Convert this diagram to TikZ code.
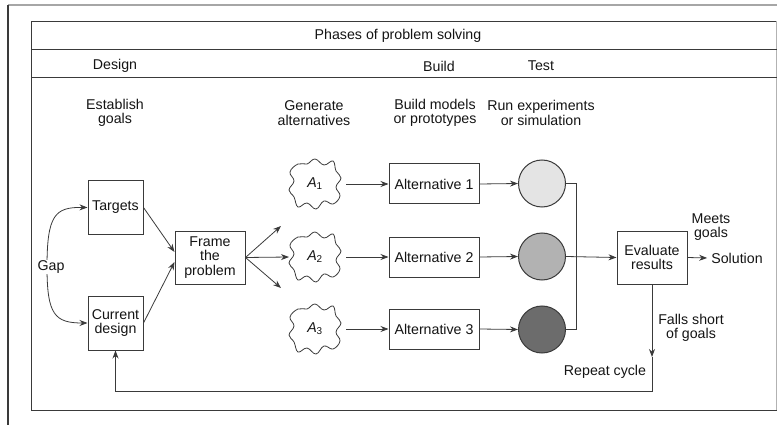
\documentclass[tikz,border=0pt]{standalone}
\usepackage{fontspec}
\setmainfont{Liberation Sans}
\usetikzlibrary{arrows.meta}
\definecolor{lc}{HTML}{3A3A3A}
\definecolor{tc}{HTML}{141414}
\definecolor{cA}{HTML}{E4E4E4}
\definecolor{cB}{HTML}{B2B2B2}
\definecolor{cC}{HTML}{6C6C6C}
\begin{document}
\begin{tikzpicture}[x=1pt,y=-1pt,
  every node/.style={font=\fontsize{14.2}{14.5}\selectfont, text=tc, inner sep=0pt, align=center},
  ln/.style={draw=lc, line width=0.8pt},
  arr/.style={ln, -{Stealth[length=8pt,width=6pt]}},
  box/.style={draw=lc, line width=1pt, fill=white},
  ball/.style={circle, draw=lc, line width=1pt, minimum size=47pt},
  cloudnode/.style={minimum width=62pt, minimum height=50pt},
  cloudpic/.pic={\draw[lc, line width=0.8pt] plot[smooth cycle, tension=0.7] coordinates {
    (-17,-20) (-8,-20) (0,-25) (9,-19) (18,-23) (21,-13) (26,-6) (21,3) (25,12)
    (18,20) (9,17) (1,25) (-8,19) (-17,23) (-21,13) (-26,6) (-21,-3) (-25,-12)};}]
\useasboundingbox (0,0) rectangle (777,425);
% outer frame
\draw[black!35, line width=1.2pt] (8,5) -- (777,5);
\draw[lc, line width=1.2pt] (8,5) -- (8,425);
% inner table
\draw[lc, line width=1pt] (777,21.5) -- (31,21.5) -- (31,410) -- (777,410);
\draw[black!30, line width=1pt] (776,21.5) -- (776,410);
\draw[lc, line width=1pt] (31,49.5) -- (777,49.5);
\draw[lc, line width=1pt] (31,78) -- (777,78);
\node (title) at (398,36) {Phases of problem solving};
\node (design) at (115,66) {Design};
\node (build) at (439,66) {Build};
\node (test) at (541,66) {Test};
\node (h1) at (115,113) {Establish\\goals};
\node (h2) at (314,113) {Generate\\alternatives};
\node (h3) at (435,113) {Build models\\or prototypes};
\node (h4) at (541,113) {Run experiments\\or simulation};
% boxes
\node[box, minimum width=55pt, minimum height=53pt] (tg) at (115.5,207.5) {Targets};
\node[box, minimum width=55pt, minimum height=54pt] (cd) at (115.5,323) {Current\\design};
\node[box, minimum width=70pt, minimum height=53pt] (fr) at (210,257.5) {Frame\\the\\problem};
\node[box, minimum width=90pt, minimum height=40pt] (b1) at (434,184) {Alternative 1};
\node[box, minimum width=90pt, minimum height=40pt] (b2) at (434,257) {Alternative 2};
\node[box, minimum width=90pt, minimum height=40pt] (b3) at (434,329) {Alternative 3};
\node[box, minimum width=70pt, minimum height=53pt] (ev) at (652,257.5) {Evaluate\\results};
% clouds
\pic at (315,184) {cloudpic};
\pic at (315,257) {cloudpic};
\pic at (315,329) {cloudpic};
\node[cloudnode] (a1) at (315,184) {\itshape A\textsubscript{\upshape 1}};
\node[cloudnode] (a2) at (315,257) {\itshape A\textsubscript{\upshape 2}};
\node[cloudnode] (a3) at (315,329) {\itshape A\textsubscript{\upshape 3}};
% circles
\node[ball, fill=cA] (c1) at (542,183.5) {};
\node[ball, fill=cB] (c2) at (542,256.5) {};
\node[ball, fill=cC] (c3) at (542,329.5) {};
% gap
\coordinate (gp) at (47,267);
\draw[arr] (gp) .. controls (47,215) and (55,207) .. (tg.west);
\draw[arr] (gp) .. controls (47,315) and (55,323) .. (cd.west);
\node[fill=white, inner sep=1pt] (gap) at (51,267) {Gap};
% to frame
\coordinate (f1) at (fr.west |- 0,252);
\coordinate (f2) at (fr.west |- 0,262);
\draw[arr] (tg.east) -- (f1);
\draw[arr] (cd.east) -- (f2);
% fan out
\coordinate (o1) at (281,226);
\coordinate (o2) at (289,257);
\coordinate (o3) at (281,288);
\draw[arr] (fr.east) -- (o1);
\draw[arr] (fr.east) -- (o2);
\draw[arr] (fr.east) -- (o3);
% clouds to boxes
\draw[arr] (a1.east) -- (b1.west);
\draw[arr] (a2.east) -- (b2.west);
\draw[arr] (a3.east) -- (b3.west);
% boxes to circles
\draw[arr] (b1.east) -- (c1.west);
\draw[arr] (b2.east) -- (c2.west);
\draw[arr] (b3.east) -- (c3.west);
% collector
\draw[ln] (c1.east) -- ++(10,0) |- (c3.east);
\draw[arr] (c2.east) -- (ev.west);
% solution
\node[inner xsep=4pt] (sol) at (737,258) {Solution};
\draw[arr] (ev.east) -- (sol.west);
\node (meets) at (711,227) {Meets\\goals};
% loop
\node (falls) at (691,328) {Falls short\\of goals};
\node (rep) at (605,372) {Repeat cycle};
\coordinate (m1) at (ev.south |- 0,357);
\coordinate (lr) at (ev.south |- 0,391);
\draw[arr] (ev.south) -- (m1);
\draw[arr] (m1) -- (lr) -| (cd.south);
\end{tikzpicture}
\end{document}
